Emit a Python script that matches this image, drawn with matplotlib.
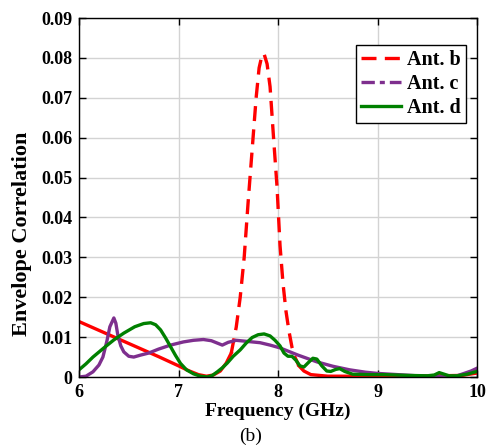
import numpy as np
import matplotlib
matplotlib.use("Agg")
import matplotlib.pyplot as plt
from matplotlib.lines import Line2D
from matplotlib.ticker import FuncFormatter

# Ant. b
freq_b = [6.0, 6.2, 6.4, 6.6, 6.8, 7.0, 7.1, 7.2, 7.28, 7.35, 7.42, 7.48, 7.53,
          7.58, 7.62, 7.66, 7.70, 7.74, 7.78, 7.81, 7.84, 7.86, 7.89, 7.92, 7.955,
          7.99, 8.02, 8.05, 8.08, 8.11, 8.14, 8.17, 8.21, 8.26, 8.33, 8.5, 8.8,
          9.2, 9.6, 9.85, 10.0]
corr_b = [0.0139, 0.0117, 0.0095, 0.0073, 0.0051, 0.0028, 0.0016, 0.0006, 0.0002,
          0.0005, 0.0015, 0.0035, 0.0060, 0.0125, 0.020, 0.030, 0.044, 0.057,
          0.070, 0.0775, 0.0808, 0.0810, 0.0785, 0.0728, 0.060, 0.0477, 0.033,
          0.0235, 0.0165, 0.0115, 0.0075, 0.0050, 0.0028, 0.0015, 0.0006, 0.0002,
          0.0002, 0.0003, 0.0003, 0.0004, 0.0010]

# Ant. c
freq_c = [6.0, 6.07, 6.14, 6.2, 6.24, 6.28, 6.31, 6.35, 6.37, 6.39, 6.42, 6.45,
          6.5, 6.55, 6.62, 6.7, 6.8, 6.92, 7.05, 7.15, 7.25, 7.33, 7.39, 7.44,
          7.5, 7.58, 7.7, 7.82, 7.92, 8.02, 8.2, 8.39, 8.55, 8.72, 8.88, 9.0,
          9.2, 9.4, 9.6, 9.73, 9.8, 9.87, 9.94, 10.0]
corr_c = [0.0, 0.0002, 0.0013, 0.003, 0.005, 0.009, 0.0126, 0.0148, 0.0135,
          0.0105, 0.0078, 0.0063, 0.0052, 0.0050, 0.0055, 0.0060, 0.0070, 0.0080,
          0.0088, 0.0092, 0.0094, 0.0091, 0.0085, 0.0080, 0.0087, 0.0092, 0.0089,
          0.0086, 0.0080, 0.0073, 0.0055, 0.0038, 0.0027, 0.0018, 0.0012, 0.0009,
          0.0006, 0.0003, 0.0001, 0.0, 0.0003, 0.0009, 0.0015, 0.0022]

# Ant. d
freq_d = [6.0, 6.07, 6.14, 6.25, 6.35, 6.45, 6.56, 6.65, 6.72, 6.77, 6.82, 6.87,
          6.92, 6.97, 7.02, 7.08, 7.15, 7.22, 7.29, 7.34, 7.39, 7.44, 7.49, 7.55,
          7.62, 7.68, 7.74, 7.8, 7.86, 7.92, 7.97, 8.02, 8.06, 8.1, 8.14, 8.18,
          8.22, 8.26, 8.3, 8.35, 8.39, 8.44, 8.49, 8.53, 8.58, 8.62, 8.67, 8.75,
          8.9, 9.06, 9.3, 9.5, 9.57, 9.62, 9.67, 9.72, 9.8, 9.9, 10.0]
corr_d = [0.0018, 0.0033, 0.0050, 0.0073, 0.0093, 0.0110, 0.0126, 0.0134, 0.0136,
          0.0131, 0.0118, 0.0098, 0.0076, 0.0054, 0.0034, 0.0018, 0.0008, 0.0002,
          0.0, 0.0004, 0.0013, 0.0023, 0.0035, 0.0052, 0.0068, 0.0085, 0.0099,
          0.0106, 0.0108, 0.0103, 0.0092, 0.0078, 0.0060, 0.0052, 0.0052, 0.0042,
          0.0028, 0.0025, 0.0035, 0.0047, 0.0045, 0.0028, 0.0015, 0.0014, 0.0019,
          0.0021, 0.0014, 0.0007, 0.0006, 0.0006, 0.0004, 0.0003, 0.0005, 0.0011,
          0.0007, 0.0003, 0.0003, 0.0007, 0.0014]

labels = ["Ant. b", "Ant. c", "Ant. d"]

plt.rcParams["font.family"] = ["Liberation Serif", "DejaVu Serif"]
plt.rcParams["font.weight"] = "bold"

RED = "#ff0000"
PURPLE = "#7e2f8e"
GREEN = "#008000"

fig = plt.figure(figsize=(4.89, 4.46), dpi=100)
ax = fig.add_axes([0.1616, 0.1547, 0.8139, 0.8049])

# the red trace looks solid where flat and dashed on the steep peak
fb = np.array(freq_b)
cb = np.array(corr_b)
flat_l = fb <= 7.53
flat_r = fb >= 8.21
steep = (fb >= 7.53) & (fb <= 8.21)
ax.plot(fb[flat_l], cb[flat_l], color=RED, lw=2.4)
ax.plot(fb[steep], cb[steep], color=RED, lw=2.4, dashes=(4.5, 2.5))
ax.plot(fb[flat_r], cb[flat_r], color=RED, lw=2.4)
ax.plot(freq_c, corr_c, color=PURPLE, lw=2.4)
ax.plot(freq_d, corr_d, color=GREEN, lw=2.4)

ax.set_xlim(6, 10)
ax.set_ylim(0, 0.09)
ax.set_xticks([6, 7, 8, 9, 10])
ax.set_yticks(np.arange(0, 0.091, 0.01))
ax.yaxis.set_major_formatter(FuncFormatter(lambda v, p: f"{v:g}"))
ax.tick_params(direction="in", length=5, width=1, top=True, right=True,
               labelsize=13, pad=5)
for lab in ax.get_xticklabels() + ax.get_yticklabels():
    lab.set_fontweight("bold")
ax.grid(True, color="#d3d3d3", lw=1)
ax.set_axisbelow(True)
for s in ax.spines.values():
    s.set_linewidth(1)

ax.set_xlabel("Frequency (GHz)", fontsize=14, fontweight="bold")
ax.xaxis.set_label_coords(0.5, -0.072)
ax.set_ylabel("Envelope Correlation", fontsize=16, fontweight="bold")
ax.yaxis.set_label_coords(-0.118, 0.40)

handles = [
    Line2D([], [], color=RED, lw=2.4, dashes=(4.5, 2.5)),
    Line2D([], [], color=PURPLE, lw=2.4, dashes=(4, 1.5, 1.5, 1.5)),
    Line2D([], [], color=GREEN, lw=2.4),
]
leg = ax.legend(handles, labels, loc="upper right", bbox_to_anchor=(0.972, 0.925),
                fancybox=False, framealpha=1, edgecolor="black",
                prop={"size": 14.5, "weight": "bold"}, handlelength=2.0,
                borderpad=0.25, labelspacing=0.2, handletextpad=0.3,
                borderaxespad=0)
leg.get_frame().set_linewidth(1)

fig.text(0.513, 0.022, "(b)", ha="center", va="center", fontsize=14,
         fontweight="normal")

fig.savefig("out.png", dpi=100)
